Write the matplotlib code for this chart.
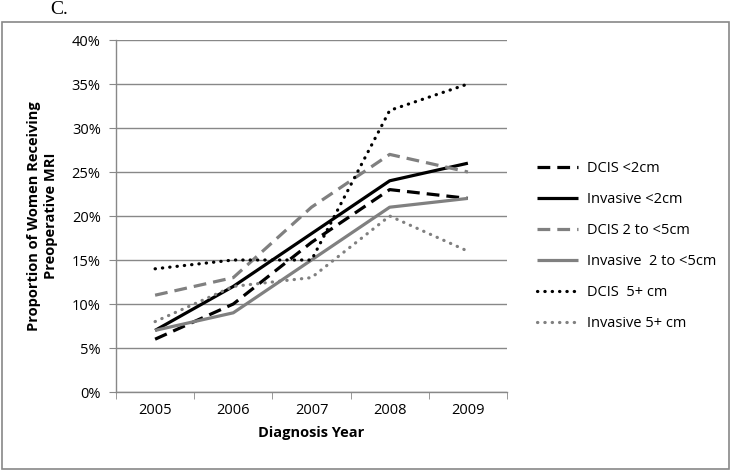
import matplotlib
matplotlib.use("Agg")
import matplotlib.pyplot as plt
from matplotlib.patches import Rectangle
from matplotlib.ticker import FixedLocator, PercentFormatter

years = ["2005", "2006", "2007", "2008", "2009"]
dcis_lt2 = [6, 10, 17, 23, 22]
inv_lt2 = [7, 12, 18, 24, 26]
dcis_2to5 = [11, 13, 21, 27, 25]
inv_2to5 = [7, 9, 15, 21, 22]
dcis_5p = [14, 15, 15, 32, 35]
inv_5p = [8, 12, 13, 20, 16]
labels = ["DCIS <2cm", "Invasive <2cm", "DCIS 2 to <5cm", "Invasive  2 to <5cm",
          "DCIS  5+ cm", "Invasive 5+ cm"]

plt.rcParams['font.family'] = ['Open Sans', 'DejaVu Sans']

W, H = 730, 471
fig = plt.figure(figsize=(W / 100, H / 100), dpi=100)
fig.patches.append(Rectangle((2 / W, 1 - 469 / H), 727 / W, (469 - 22) / H,
                             transform=fig.transFigure, fill=False,
                             edgecolor='#888888', linewidth=1.2))
fig.text(50 / W, 1 - 10 / H, "C.", family='Liberation Serif', fontsize=14,
         va='center', ha='left')

ax = fig.add_axes([116 / W, 1 - 392 / H, (507 - 116) / W, (392 - 40) / H])
x = list(range(len(years)))
gray = '#808080'
lw = 2.3
dot = (0, (0.1, 2.2))
series = [
    (dcis_lt2, 'black', (0, (4, 2.2))),
    (inv_lt2, 'black', '-'),
    (dcis_2to5, gray, (0, (4, 2.2))),
    (inv_2to5, gray, '-'),
    (dcis_5p, 'black', dot),
    (inv_5p, gray, dot),
]
for (vals, c, ls), lab in zip(series, labels):
    ln, = ax.plot(x, vals, color=c, linestyle=ls, linewidth=lw, label=lab,
                  solid_capstyle='butt')
    if ls == dot:
        ln.set_dash_capstyle('round')

ax.set_xlim(-0.5, 4.5)
ax.set_ylim(0, 40)
ax.set_xticks(x)
ax.set_xticklabels(years)
ax.xaxis.set_minor_locator(FixedLocator([i - 0.5 for i in range(6)]))
ax.tick_params(axis='x', which='major', length=0, pad=8, labelsize=10.5)
ax.tick_params(axis='x', which='minor', length=5, color='#888888', direction='out')
ax.set_yticks(range(0, 41, 5))
ax.yaxis.set_major_formatter(PercentFormatter(decimals=0))
ax.tick_params(axis='y', length=5, color='#888888', labelsize=10.5, pad=6)
ax.grid(axis='y', color='#888888', linewidth=1)
ax.set_axisbelow(True)
for s in ['top', 'right']:
    ax.spines[s].set_visible(False)
for s in ['left', 'bottom']:
    ax.spines[s].set_color('#888888')
    ax.spines[s].set_linewidth(1)

ax.set_xlabel("Diagnosis Year", fontweight='bold', fontsize=10.5, labelpad=6)
ax.set_ylabel("Proportion of Women Receiving\nPreoperative MRI", fontweight='bold',
              fontsize=10.5, labelpad=10, linespacing=1.25)

leg = ax.legend(loc='center left', bbox_to_anchor=(524 / W, 1 - 246 / H),
                bbox_transform=fig.transFigure, frameon=False, fontsize=10.5,
                handlelength=2.8, labelspacing=1.1, handletextpad=0.6)

fig.savefig("out.png", dpi=100)
